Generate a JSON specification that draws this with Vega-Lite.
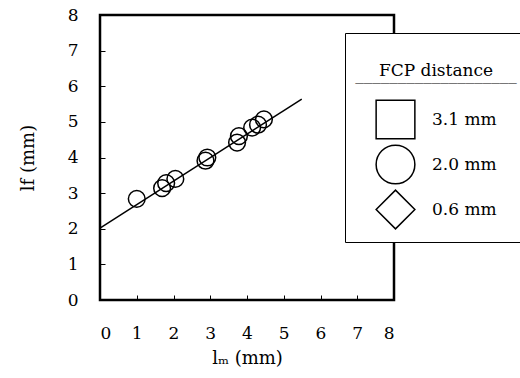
{
  "$schema": "https://vega.github.io/schema/vega-lite/v6.json",
  "width": 294,
  "height": 285,
  "autosize": "none",
  "padding": {"left": 100, "top": 15, "right": 126, "bottom": 78},
  "background": "white",
  "config": {
    "font": "DejaVu Serif",
    "view": {"stroke": "black", "strokeWidth": 2.5},
    "axis": {
      "grid": false,
      "domain": false,
      "tickColor": "black",
      "tickSize": -5,
      "tickWidth": 1,
      "labelFont": "DejaVu Serif",
      "labelFontSize": 17,
      "labelColor": "black",
      "labelOverlap": false,
      "titleFont": "DejaVu Serif",
      "titleFontSize": 18,
      "titleFontWeight": "normal",
      "titleColor": "black"
    },
    "legend": {
      "labelFont": "DejaVu Serif",
      "titleFont": "DejaVu Serif"
    }
  },
  "encoding": {
    "x": {
      "field": "lm", "type": "quantitative",
      "scale": {"domain": [0, 8], "nice": false},
      "axis": {"values": [0,1,2,3,4,5,6,7,8], "title": "lₘ (mm)", "labelPadding": 30, "titlePadding": 8}
    },
    "y": {
      "field": "lf", "type": "quantitative",
      "scale": {"domain": [0, 8], "nice": false},
      "axis": {"values": [0,1,2,3,4,5,6,7,8], "title": "lf (mm)", "labelPadding": 27, "titlePadding": 30}
    }
  },
  "layer": [
    {
      "data": {"values": [
        {"lm": 0, "lf": 2.02},
        {"lm": 5.49, "lf": 5.64}
      ]},
      "mark": {"type": "line", "color": "black", "strokeWidth": 1.5}
    },
    {
      "data": {"values": [
        {"lm": 1.0, "lf": 2.84, "fcp": "2.0 mm"},
        {"lm": 1.69, "lf": 3.14, "fcp": "2.0 mm"},
        {"lm": 1.8, "lf": 3.28, "fcp": "2.0 mm"},
        {"lm": 2.05, "lf": 3.4, "fcp": "2.0 mm"},
        {"lm": 2.87, "lf": 3.91, "fcp": "2.0 mm"},
        {"lm": 2.92, "lf": 4.0, "fcp": "2.0 mm"},
        {"lm": 3.73, "lf": 4.42, "fcp": "2.0 mm"},
        {"lm": 3.78, "lf": 4.6, "fcp": "2.0 mm"},
        {"lm": 4.14, "lf": 4.84, "fcp": "2.0 mm"},
        {"lm": 4.3, "lf": 4.92, "fcp": "2.0 mm"},
        {"lm": 4.46, "lf": 5.07, "fcp": "2.0 mm"}
      ]},
      "mark": {"type": "point", "filled": false, "color": "black", "strokeWidth": 1.5, "size": 280, "opacity": 1},
      "encoding": {
        "shape": {
          "field": "fcp", "type": "nominal",
          "scale": {"domain": ["3.1 mm", "2.0 mm", "0.6 mm"], "range": ["square", "circle", "diamond"]},
          "legend": {
            "title": [" ", "FCP distance", "‾‾‾‾‾‾‾‾‾‾‾‾‾‾‾‾‾‾‾"],
            "orient": "none",
            "legendX": 245,
            "legendY": 18,
            "fillColor": "white",
            "strokeColor": "black",
            "padding": 10,
            "titleAnchor": "middle",
            "titleAlign": "center",
            "titleFontSize": 17,
            "titleFontWeight": "normal",
            "titleColor": "black",
            "titleLineHeight": 20,
            "titlePadding": -1,
            "titleLimit": 300,
            "labelFontSize": 17,
            "labelColor": "black",
            "labelOffset": 16,
            "symbolOffset": 0,
            "symbolSize": 1500,
            "symbolStrokeColor": "black",
            "symbolStrokeWidth": 1.5,
            "symbolFillColor": "transparent",
            "rowPadding": 0
          }
        }
      }
    }
  ]
}
